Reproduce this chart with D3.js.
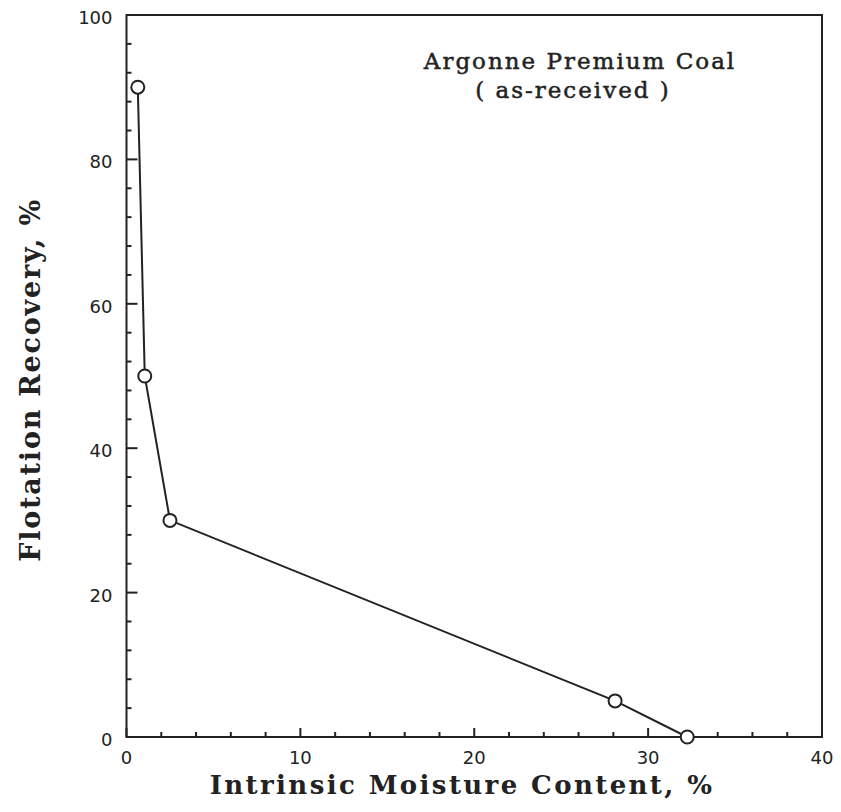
<!DOCTYPE html>
<html>
<head>
<meta charset="utf-8">
<script src="https://cdn.jsdelivr.net/npm/d3@7/dist/d3.min.js"></script>
<style>
  body { margin: 0; background: #fff; }
  svg { display: block; }
</style>
</head>
<body>
<svg id="chart" width="841" height="812"></svg>
<script>
// Flotation recovery versus intrinsic moisture content
const moisture = [0.65, 1.05, 2.5, 28.1, 32.25];
const recovery = [90, 50, 30, 5, 0];
const xTickValues = [0, 10, 20, 30, 40];
const yTickValues = [0, 20, 40, 60, 80, 100];
const titleLines = ["Argonne Premium Coal", "( as-received )"];

const svg = d3.select("#chart");
const margin = { left: 126.5, right: 19, top: 15, bottom: 75 };
const W = 841, H = 812;
const x = d3.scaleLinear().domain([0, 40]).range([margin.left, W - margin.right]);
const y = d3.scaleLinear().domain([0, 100]).range([H - margin.bottom, margin.top]);

const ink = "#222";
const tickFont = "'DejaVu Sans', sans-serif";
const serif = "'DejaVu Serif', 'Liberation Serif', serif";

// Frame
svg.append("rect")
  .attr("x", x(0)).attr("y", y(100))
  .attr("width", x(40) - x(0)).attr("height", y(0) - y(100))
  .attr("fill", "none").attr("stroke", ink).attr("stroke-width", 2);

// Inward ticks: minor every 2 on x, every 4 on y
const g = svg.append("g").attr("stroke", ink);
d3.range(0, 40.001, 2).forEach(v => {
  const major = v % 10 === 0;
  g.append("line").attr("x1", x(v)).attr("x2", x(v))
    .attr("y1", y(0)).attr("y2", y(0) - (major ? 9 : 5))
    .attr("stroke-width", 2);
});
d3.range(0, 100.001, 4).forEach(v => {
  const major = v % 20 === 0;
  g.append("line").attr("x1", x(0)).attr("x2", x(0) + (major ? 11 : 5))
    .attr("y1", y(v)).attr("y2", y(v))
    .attr("stroke-width", 2);
});

// Tick labels
svg.append("g").selectAll("text").data(xTickValues).join("text")
  .attr("x", d => x(d)).attr("y", y(0) + 27)
  .attr("text-anchor", "middle")
  .attr("font-family", tickFont).attr("font-size", 18)
  .attr("fill", ink)
  .text(d => d);
svg.append("g").selectAll("text").data(yTickValues).join("text")
  .attr("x", x(0) - 14).attr("y", d => y(d) + 9)
  .attr("text-anchor", "end")
  .attr("font-family", tickFont).attr("font-size", 18)
  .attr("fill", ink)
  .text(d => d);

// Data line and open markers
const pts = moisture.map((m, i) => [m, recovery[i]]);
svg.append("path")
  .datum(pts)
  .attr("d", d3.line().x(d => x(d[0])).y(d => y(d[1])))
  .attr("fill", "none").attr("stroke", ink).attr("stroke-width", 2);
svg.append("g").selectAll("circle").data(pts).join("circle")
  .attr("cx", d => x(d[0])).attr("cy", d => y(d[1]))
  .attr("r", 6.5)
  .attr("fill", "#fff").attr("stroke", ink).attr("stroke-width", 2);

// Annotation
svg.append("g").selectAll("text").data(titleLines).join("text")
  .attr("x", (d, i) => i === 0 ? 580 : 573)
  .attr("y", (d, i) => 69 + i * 29)
  .attr("text-anchor", "middle")
  .attr("font-family", serif).attr("font-size", 23)
  .attr("letter-spacing", 2)
  .attr("stroke", ink).attr("stroke-width", 0.5)
  .attr("fill", ink)
  .text(d => d);

// Axis titles
svg.append("text")
  .attr("x", 462).attr("y", 794)
  .attr("text-anchor", "middle")
  .attr("font-family", serif).attr("font-weight", "bold").attr("font-size", 26)
  .attr("letter-spacing", 2.4)
  .attr("fill", ink)
  .text("Intrinsic Moisture Content, %");
svg.append("text")
  .attr("transform", "translate(40,380) rotate(-90)")
  .attr("text-anchor", "middle")
  .attr("font-family", serif).attr("font-weight", "bold").attr("font-size", 27)
  .attr("letter-spacing", 1.8)
  .attr("fill", ink)
  .text("Flotation Recovery, %");
</script>
</body>
</html>
